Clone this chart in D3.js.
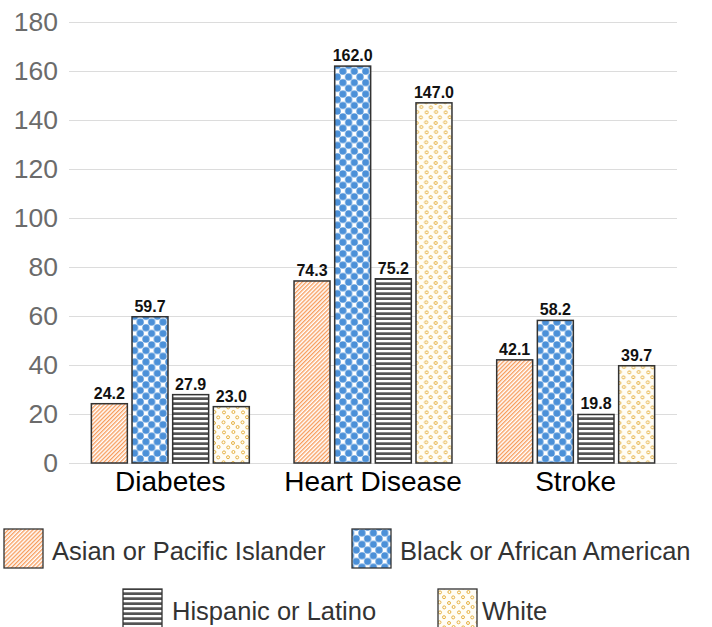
<!DOCTYPE html>
<html>
<head>
<meta charset="utf-8">
<script src="https://cdn.jsdelivr.net/npm/d3@7"></script>
<style>
  html, body { margin: 0; padding: 0; background: #fff; }
  svg { display: block; font-family: "Liberation Sans", Arial, Helvetica, sans-serif; }
</style>
</head>
<body>
<svg id="chart" width="712" height="627"></svg>
<script>
// Age-adjusted death rates by cause and group
const categories = ["Diabetes", "Heart Disease", "Stroke"];
const seriesNames = ["Asian or Pacific Islander", "Black or African American", "Hispanic or Latino", "White"];
const asianValues = [24.2, 74.3, 42.1];
const blackValues = [59.7, 162.0, 58.2];
const hispanicValues = [27.9, 75.2, 19.8];
const whiteValues = [23.0, 147.0, 39.7];
const yTicks = [0, 20, 40, 60, 80, 100, 120, 140, 160, 180];

const seriesValues = [asianValues, blackValues, hispanicValues, whiteValues];
const patternIds = ["pat-diag", "pat-dots", "pat-stripes", "pat-rings"];

const svg = d3.select("#chart");
const defs = svg.append("defs");

// Diagonal orange hatching
const diag = defs.append("pattern")
  .attr("id", "pat-diag").attr("patternUnits", "userSpaceOnUse")
  .attr("width", 2.9).attr("height", 2.9)
  .attr("patternTransform", "rotate(45)");
diag.append("rect").attr("width", 2.9).attr("height", 2.9).attr("fill", "#fff");
diag.append("line").attr("x1", 0.7).attr("y1", 0).attr("x2", 0.7).attr("y2", 2.9)
  .attr("stroke", "#f68d42").attr("stroke-width", 1.15);

// Staggered blue dots
const dotStep = 11.4;
const dots = defs.append("pattern")
  .attr("id", "pat-dots").attr("patternUnits", "userSpaceOnUse")
  .attr("width", dotStep).attr("height", dotStep);
dots.append("rect").attr("width", dotStep).attr("height", dotStep).attr("fill", "#fff");
[[0.25, 0.25], [0.75, 0.75], [-0.25, 0.75], [1.25, 0.25], [0.25, 1.25], [0.75, -0.25]].forEach(([fx, fy]) => {
  dots.append("circle").attr("cx", fx * dotStep).attr("cy", fy * dotStep).attr("r", 3.6).attr("fill", "#4b90d8");
});

// Dark horizontal stripes
const stripes = defs.append("pattern")
  .attr("id", "pat-stripes").attr("patternUnits", "userSpaceOnUse")
  .attr("width", 10).attr("height", 5.0);
stripes.append("rect").attr("width", 10).attr("height", 5.0).attr("fill", "#545454");
stripes.append("rect").attr("y", 0).attr("width", 10).attr("height", 2.3).attr("fill", "#fff");

// Small scattered yellow rings
const rings = defs.append("pattern")
  .attr("id", "pat-rings").attr("patternUnits", "userSpaceOnUse")
  .attr("width", 19).attr("height", 20);
rings.append("rect").attr("width", 19).attr("height", 20).attr("fill", "#fffdf6");
[[2.5, 2.3], [12.0, 3.0], [7.2, 7.4], [16.6, 7.0], [3.0, 12.4], [12.4, 12.0], [7.0, 17.2], [16.2, 17.4]].forEach(([cx, cy]) => {
  rings.append("circle").attr("cx", cx).attr("cy", cy).attr("r", 1.5)
    .attr("fill", "none").attr("stroke", "#e6b244").attr("stroke-width", 1);
});

// Scales
const y = d3.scaleLinear().domain([0, 180]).range([463, 22]);
const x0 = d3.scaleBand().domain(categories).range([69, 677]).paddingInner(0).paddingOuter(0);
const x1 = d3.scaleBand().domain(seriesNames).range([0, x0.bandwidth()])
  .paddingInner(0.115).paddingOuter(0.55);

// Gridlines and tick labels
const yAxis = d3.axisLeft(y).tickValues(yTicks).tickSize(-(677 - 69)).tickPadding(11).tickFormat(d3.format("d"));
const gy = svg.append("g").attr("transform", "translate(69,0)").call(yAxis);
gy.select(".domain").remove();
gy.selectAll(".tick line").attr("stroke", "#dcdcdc").attr("stroke-width", 1);
gy.selectAll(".tick text")
  .attr("fill", "#6b6b6b").attr("font-size", 26.5).attr("font-family", "\"Liberation Sans\", Arial, sans-serif");

// Bars
const groups = svg.append("g").selectAll("g")
  .data(categories).join("g")
  .attr("transform", d => `translate(${x0(d)},0)`);

groups.each(function(cat, ci) {
  const g = d3.select(this);
  const rows = seriesNames.map((s, si) => ({ s, si, v: seriesValues[si][ci] }));
  g.selectAll("rect").data(rows).join("rect")
    .attr("x", d => x1(d.s))
    .attr("y", d => y(d.v))
    .attr("width", x1.bandwidth())
    .attr("height", d => y(0) - y(d.v))
    .attr("fill", d => `url(#${patternIds[d.si]})`)
    .attr("stroke", "#333")
    .attr("stroke-width", 1.5);
  g.selectAll("text").data(rows).join("text")
    .attr("x", d => x1(d.s) + x1.bandwidth() / 2)
    .attr("y", d => y(d.v) - 5)
    .attr("text-anchor", "middle")
    .attr("font-size", 16).attr("font-weight", "bold").attr("fill", "#111")
    .text(d => d3.format(".1f")(d.v));
});

// Category labels
const xAxis = d3.axisBottom(x0).tickSize(0).tickPadding(0);
const gx = svg.append("g").attr("transform", "translate(0,463)").call(xAxis);
gx.select(".domain").remove();
gx.selectAll(".tick text")
  .attr("dy", null).attr("y", 28)
  .attr("font-size", 28).attr("fill", "#000")
  .attr("font-family", "\"Liberation Sans\", Arial, sans-serif");

// Legend
const legendPos = [
  { sx: 4, sy: 529, tx: 52, ty: 560 },
  { sx: 352, sy: 529, tx: 400, ty: 560 },
  { sx: 123, sy: 589, tx: 172, ty: 620 },
  { sx: 438, sy: 589, tx: 482, ty: 620 }
];
const legend = svg.append("g").selectAll("g").data(seriesNames).join("g");
legend.append("rect")
  .attr("x", (d, i) => legendPos[i].sx).attr("y", (d, i) => legendPos[i].sy)
  .attr("width", 39).attr("height", 39)
  .attr("fill", (d, i) => `url(#${patternIds[i]})`)
  .attr("stroke", "#333").attr("stroke-width", 1.3);
legend.append("text")
  .attr("x", (d, i) => legendPos[i].tx).attr("y", (d, i) => legendPos[i].ty)
  .attr("font-size", 25.5).attr("fill", "#333")
  .text(d => d);
</script>
</body>
</html>
